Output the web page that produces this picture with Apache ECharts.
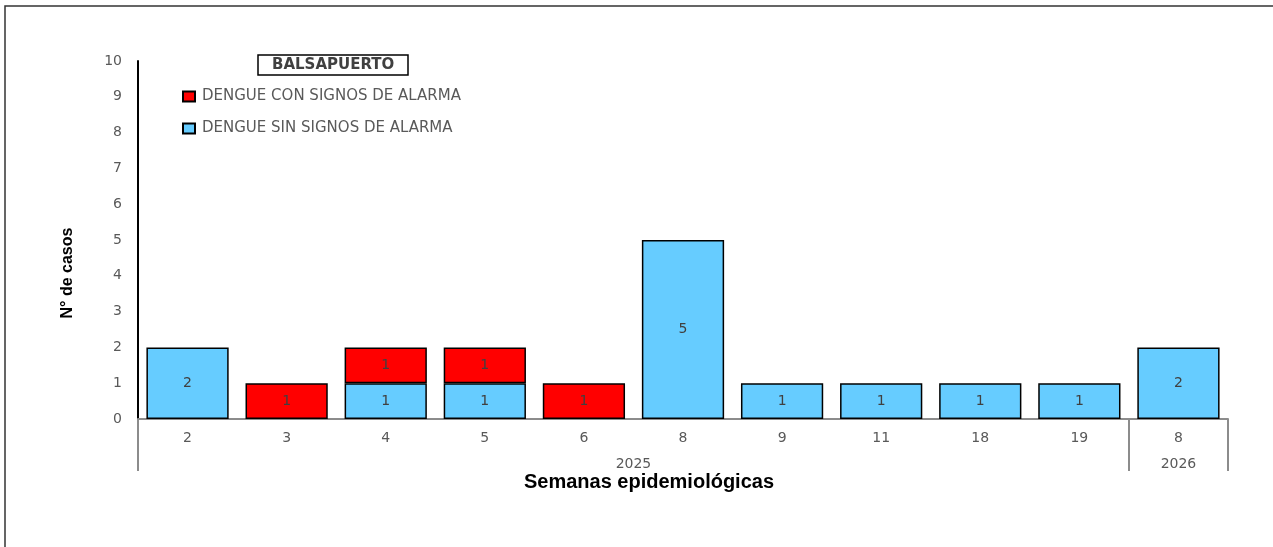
<!DOCTYPE html>
<html>
<head>
<meta charset="utf-8">
<script src="https://cdn.jsdelivr.net/npm/echarts@6/dist/echarts.min.js"></script>
<style>
    html, body { margin: 0; padding: 0; background: #fff; }
    #main { width: 1273px; height: 547px; }
</style>
</head>
<body>
<div id="main"></div>
<script>
// semanas epidemiologicas
var semanas = ['2', '3', '4', '5', '6', '8', '9', '11', '18', '19', '8'];
var anios = ['2025', '2026'];
var semanasPorAnio = [10, 1];

var sinSignos = [2, null, 1, 1, null, 5, 1, 1, 1, 1, 2];
var conSignos = [null, 1, 1, 1, 1, null, null, null, null, null, null];

var yTicks = [0, 1, 2, 3, 4, 5, 6, 7, 8, 9, 10];

// limites y centros de cada grupo de años
var cortes = [0];
var centros = [];
for (var i = 0; i < semanasPorAnio.length; i++) {
    centros.push(cortes[i] + semanasPorAnio[i] / 2);
    cortes.push(cortes[i] + semanasPorAnio[i]);
}

var myChart = echarts.init(document.getElementById('main'));
var txtGris = '#595959';

var option = {
    backgroundColor: '#fff',
    animation: false,
    textStyle: { fontFamily: 'DejaVu Sans' },
    title: [{
        text: 'BALSAPUERTO',
        left: 258,
        top: 55,
        padding: [3, 14, 2, 14],
        borderColor: '#000',
        borderWidth: 1.5,
        textStyle: { fontSize: 15, fontWeight: 'bold', color: '#404040', fontFamily: 'DejaVu Sans' }
    }, {
        text: 'Semanas epidemiológicas',
        left: 644,
        top: 467,
        textAlign: 'center',
        textStyle: { fontSize: 20, fontWeight: 'bold', color: '#000', fontFamily: 'Liberation Sans' }
    }],
    legend: {
        orient: 'vertical',
        left: 177,
        top: 84,
        itemWidth: 12,
        itemHeight: 10,
        itemGap: 17,
        icon: 'rect',
        data: ['DENGUE CON SIGNOS DE ALARMA', 'DENGUE SIN SIGNOS DE ALARMA'],
        textStyle: { fontSize: 15, color: txtGris, fontFamily: 'DejaVu Sans', padding: [0, 0, 0, 2] }
    },
    grid: {
        left: 138,
        right: 45,
        top: 61,
        bottom: 128
    },
    xAxis: [{
        type: 'category',
        data: semanas,
        axisLine: { lineStyle: { color: '#8c8c8c', width: 2 } },
        axisTick: { show: false },
        axisLabel: { margin: 12, fontSize: 14, color: txtGris }
    }, {
        type: 'value',
        position: 'bottom',
        min: 0,
        max: semanas.length,
        axisLine: { show: false },
        splitLine: { show: false },
        axisTick: {
            show: true,
            length: 52,
            customValues: cortes,
            lineStyle: { color: '#8c8c8c', width: 2 }
        },
        axisLabel: {
            margin: 38,
            fontSize: 14,
            color: txtGris,
            customValues: centros,
            formatter: function (v) {
                var idx = centros.indexOf(v);
                return idx >= 0 ? anios[idx] : '';
            }
        }
    }],
    yAxis: {
        type: 'value',
        min: yTicks[0],
        max: yTicks[yTicks.length - 1],
        interval: 1,
        name: 'N° de casos',
        nameLocation: 'middle',
        nameGap: 62,
        nameTextStyle: {
            fontSize: 16, fontWeight: 'bold', color: '#000', fontFamily: 'Liberation Sans',
            padding: [0, 66, 0, 0]
        },
        axisLine: { show: true, lineStyle: { color: '#000', width: 2 } },
        axisTick: { show: false },
        splitLine: { show: false },
        axisLabel: { margin: 16, fontSize: 14, color: txtGris }
    },
    series: [{
        name: 'DENGUE SIN SIGNOS DE ALARMA',
        type: 'bar',
        stack: 'casos',
        barWidth: '83%',
        itemStyle: { color: '#66ccff', borderColor: '#000', borderWidth: 1.5 },
        label: { show: true, position: 'inside', fontSize: 14, color: '#404040' },
        data: sinSignos
    }, {
        name: 'DENGUE CON SIGNOS DE ALARMA',
        type: 'bar',
        stack: 'casos',
        barWidth: '83%',
        itemStyle: { color: '#ff0000', borderColor: '#000', borderWidth: 1.5 },
        label: { show: true, position: 'inside', fontSize: 14, color: '#404040' },
        data: conSignos
    }],
    graphic: [{
        type: 'polyline',
        shape: { points: [[5, 547], [5, 6], [1273, 6]] },
        style: { stroke: '#333', lineWidth: 1.5, fill: null }
    }]
};

myChart.setOption(option);
</script>
</body>
</html>
